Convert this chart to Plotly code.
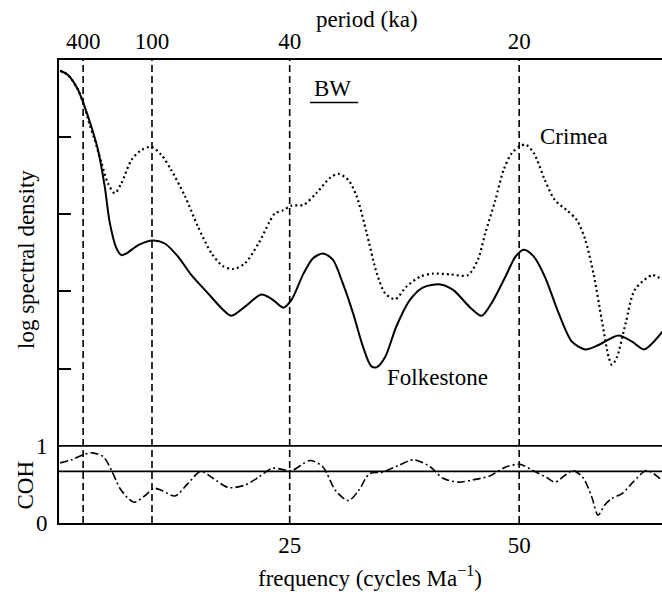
import plotly.graph_objects as go

# ---------------- data ----------------
folk_f = [0, 0.85, 1.94, 2.6, 3.4, 4.12, 4.85, 5.4, 6.12, 6.67, 7.2, 8.5, 10.1, 11.4, 12.84, 14.3,
          16.1, 17.6, 18.66, 20.1, 21.9, 22.8, 23.4, 24.3, 25.2, 26.5, 27.55, 28.64, 29.7, 30.8,
          31.9, 33.0, 33.9, 34.5, 35.4, 36.6, 38.1, 39.5, 41.4, 42.8, 44.6, 45.9, 47.0, 48.5,
          49.6, 50.5, 51.6, 52.8, 54.3, 55.75, 57.2, 58.7, 60.8, 62.3, 63.6, 64.5, 65.6]
folk_v = [3.855, 3.80, 3.61, 3.41, 3.13, 2.83, 2.36, 1.89, 1.56, 1.47, 1.49, 1.60, 1.66, 1.62, 1.45,
          1.21, 0.975, 0.78, 0.685, 0.80, 0.96, 0.92, 0.87, 0.79, 0.89, 1.23, 1.43, 1.49, 1.41, 1.10,
          0.72, 0.28, 0.03, 0.02, 0.15, 0.54, 0.89, 1.05, 1.09, 1.02, 0.80, 0.685, 0.85, 1.19,
          1.45, 1.54, 1.45, 1.19, 0.72, 0.35, 0.25, 0.31, 0.43, 0.35, 0.25, 0.33, 0.48]

crim_f = [0, 0.85, 1.94, 2.6, 3.2, 3.76, 4.5, 5.2, 5.94, 6.67, 7.76, 8.85, 9.94, 11.0, 12.1, 13.6,
          15.0, 16.5, 17.7, 18.8, 20.1, 21.6, 22.8, 23.4, 24.3, 25.2, 26.5, 27.9, 29.4, 30.3, 31.4,
          32.3, 33.4, 34.5, 35.4, 36.5, 37.7, 39.2, 40.6, 42.5, 44.4, 45.5, 46.3, 47.4, 48.3, 49.2,
          50.1, 50.7, 51.6, 52.8, 53.9, 55.2, 56.3, 57.2, 58.1, 59.0, 59.75, 60.1, 60.65, 61.6,
          62.6, 64.5, 65.6]
crim_v = [3.855, 3.80, 3.61, 3.41, 3.16, 2.96, 2.66, 2.40, 2.27, 2.40, 2.70, 2.83, 2.87, 2.77, 2.57,
          2.23, 1.84, 1.49, 1.33, 1.29, 1.36, 1.62, 1.90, 2.01, 2.05, 2.11, 2.12, 2.27, 2.47, 2.52,
          2.44, 2.23, 1.75, 1.23, 0.975, 0.90, 1.06, 1.19, 1.23, 1.22, 1.21, 1.41, 1.75, 2.18, 2.57,
          2.79, 2.88, 2.90, 2.79, 2.44, 2.18, 2.05, 1.92, 1.67, 1.23, 0.63, 0.15, 0.05, 0.15, 0.59,
          1.02, 1.21, 1.15]

coh_f = [0, 1.23, 2.6, 3.5, 4.7, 5.6, 6.5, 7.4, 8.1, 9.3, 10.2, 11.1, 12.5, 13.9, 15.3, 16.65, 18.3,
         20.1, 21.7, 23.1, 25.2, 27.2, 28.6, 30.0, 31.4, 32.5, 33.7, 35.1, 36.9, 38.5, 40.3, 41.7,
         43.4, 45.0, 46.8, 48.6, 50.1, 51.5, 53.0, 53.9, 55.0, 55.9, 57.0, 57.9, 58.6, 59.3, 60.1,
         61.2, 62.4, 63.9, 65.5]
coh_v = [0.78, 0.82, 0.89, 0.91, 0.86, 0.68, 0.45, 0.32, 0.27, 0.36, 0.45, 0.42, 0.35, 0.51, 0.67,
         0.58, 0.46, 0.49, 0.60, 0.71, 0.68, 0.81, 0.73, 0.42, 0.29, 0.42, 0.64, 0.66, 0.75, 0.82,
         0.73, 0.58, 0.53, 0.56, 0.61, 0.73, 0.76, 0.68, 0.59, 0.53, 0.62, 0.68, 0.58, 0.34, 0.10,
         0.23, 0.32, 0.38, 0.53, 0.68, 0.56]

period_freq = [2.5, 10, 25, 50]
period_labels = ["400", "100", "40", "20"]
freq_ticks = [25, 50]
coh_lines = [1.0, 0.67]
bw_band = [27.2, 32.46]
lsd_ticks = [0, 1, 2, 3]

# ---------------- figure ----------------
FONT = "Liberation Serif"
FS = 23
X_RANGE = [-0.13, 65.56]

fig = go.Figure()

fig.add_trace(go.Scatter(x=crim_f, y=crim_v, xaxis="x2", yaxis="y2", mode="lines",
                         line=dict(color="black", width=2.2, dash="2px,3px", shape="spline", smoothing=0.8),
                         showlegend=False, hoverinfo="skip"))
fig.add_trace(go.Scatter(x=folk_f, y=folk_v, xaxis="x2", yaxis="y2", mode="lines",
                         line=dict(color="black", width=2, shape="spline", smoothing=0.8),
                         showlegend=False, hoverinfo="skip"))
fig.add_trace(go.Scatter(x=coh_f, y=coh_v, xaxis="x", yaxis="y", mode="lines",
                         line=dict(color="black", width=1.6, dash="8px,3px,2px,3px", shape="spline", smoothing=0.8),
                         showlegend=False, hoverinfo="skip"))

shapes = []
for f in period_freq:
    shapes.append(dict(type="line", xref="x", yref="paper", x0=f, x1=f, y0=0, y1=1,
                       line=dict(color="black", width=1.6, dash="7px,4px")))
for c in coh_lines:
    shapes.append(dict(type="line", xref="paper", yref="y", x0=0, x1=1, y0=c, y1=c,
                       line=dict(color="black", width=1.8)))
shapes.append(dict(type="line", xref="x", yref="y2", x0=bw_band[0], x1=bw_band[1], y0=3.444, y1=3.444,
                   line=dict(color="black", width=1.5)))

afont = dict(family=FONT, size=FS)
annotations = [
    dict(text="period (ka)", xref="paper", yref="paper", x=(366.7 - 59) / 603, y=(523 - 19) / 463,
         showarrow=False, xanchor="center", yanchor="middle", font=afont),
    dict(text="frequency (cycles Ma<sup>−1</sup>)", xref="paper", yref="paper", x=(370 - 59) / 603,
         y=(523 - 576) / 463, showarrow=False, xanchor="center", yanchor="middle", font=afont),
    dict(text="log spectral density", xref="paper", yref="paper", x=(26 - 59) / 603, y=(523 - 260) / 463,
         textangle=-90, showarrow=False, xanchor="center", yanchor="middle", font=afont),
    dict(text="COH", xref="paper", yref="paper", x=(24.5 - 59) / 603, y=(523 - 485) / 463,
         textangle=-90, showarrow=False, xanchor="center", yanchor="middle", font=afont),
    dict(text="BW", xref="x", yref="y2", x=29.7, y=3.626, showarrow=False, xanchor="center",
         yanchor="middle", font=afont),
    dict(text="Crimea", xref="x", yref="y2", x=56.0, y=3.0, showarrow=False, xanchor="center",
         yanchor="middle", font=afont),
    dict(text="Folkestone", xref="x", yref="y2", x=41.1, y=-0.12, showarrow=False, xanchor="center",
         yanchor="middle", font=afont),
]

fig.update_layout(
    width=662, height=592,
    margin=dict(l=59, r=0, t=60, b=69, pad=0),
    paper_bgcolor="white", plot_bgcolor="white",
    font=dict(family=FONT, size=FS, color="black"),
    showlegend=False,
    shapes=shapes, annotations=annotations,
    xaxis=dict(range=X_RANGE, tickvals=freq_ticks, ticks="", showgrid=False, zeroline=False,
               showline=True, linecolor="black", linewidth=2, ticklabelstandoff=0,
               tickfont=afont),
    xaxis2=dict(range=X_RANGE, overlaying="x", side="top", anchor="y2", tickvals=period_freq,
                ticktext=period_labels, ticks="", showgrid=False, zeroline=False,
                showline=True, linecolor="black", linewidth=1.6, ticklabelstandoff=0,
                tickfont=afont),
    yaxis=dict(range=[0, 6.005], tickvals=[0, 1], ticks="", showgrid=False, zeroline=False,
               showline=True, linecolor="black", linewidth=2, ticklabelstandoff=5,
               tickfont=afont),
    yaxis2=dict(range=[-1.996, 3.994], overlaying="y", side="left", anchor="x2", tickvals=lsd_ticks,
                ticks="inside", ticklen=12, tickwidth=1.5, tickcolor="black", showticklabels=False,
                showgrid=False, zeroline=False, showline=False),
)

fig.write_html("out.html")
